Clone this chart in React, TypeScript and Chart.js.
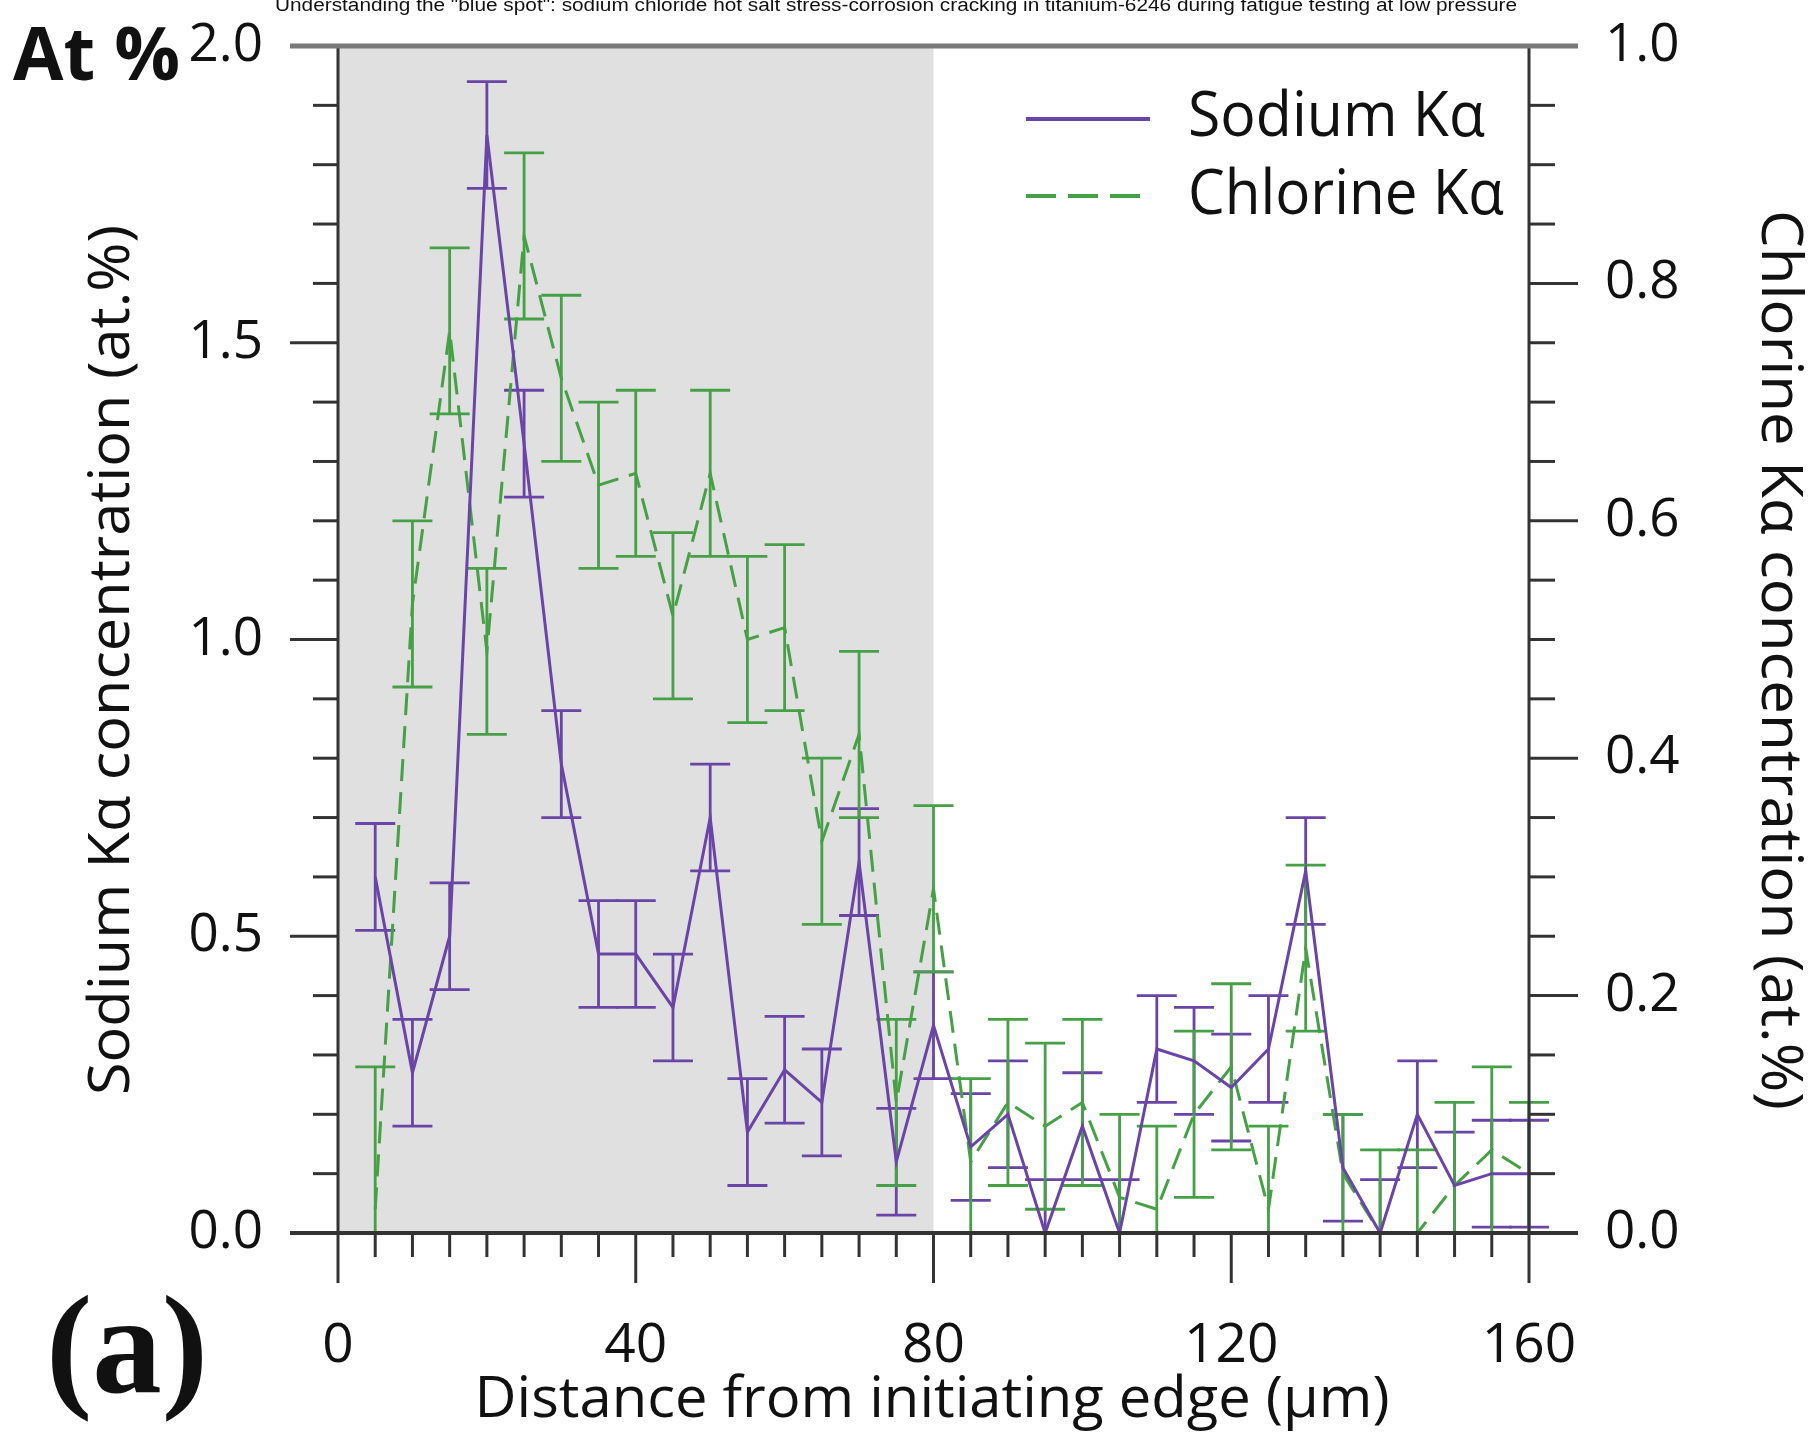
import React, { useEffect, useRef } from "react";
import { Chart, registerables } from "chart.js";

Chart.register(...registerables);

// ---------------- data ----------------
const TITLE =
  'Understanding the "blue spot": sodium chloride hot salt stress-corrosion cracking in titanium-6246 during fatigue testing at low pressure';

const distance = [
  5, 10, 15, 20, 25, 30, 35, 40, 45, 50, 55, 60, 65, 70, 75, 80,
  85, 90, 95, 100, 105, 110, 115, 120, 125, 130, 135, 140, 145, 150, 155, 160,
];

const sodium = [
  0.6, 0.27, 0.5, 1.85, 1.33, 0.79, 0.47, 0.47, 0.38, 0.7, 0.17, 0.275, 0.22, 0.625, 0.12, 0.35,
  0.145, 0.2, 0.0, 0.18, 0.0, 0.31, 0.29, 0.245, 0.31, 0.61, 0.11, 0.0, 0.2, 0.08, 0.1, 0.1,
];
const sodiumErr = [
  0.09, 0.09, 0.09, 0.09, 0.09, 0.09, 0.09, 0.09, 0.09, 0.09, 0.09, 0.09, 0.09, 0.09, 0.09, 0.09,
  0.09, 0.09, 0.09, 0.09, 0.09, 0.09, 0.09, 0.09, 0.09, 0.09, 0.09, 0.09, 0.09, 0.09, 0.09, 0.09,
];

const chlorine = [
  0.02, 0.53, 0.76, 0.49, 0.84, 0.72, 0.63, 0.64, 0.52, 0.64, 0.5, 0.51, 0.33, 0.42, 0.11, 0.29,
  0.06, 0.11, 0.09, 0.11, 0.03, 0.02, 0.1, 0.14, 0.02, 0.24, 0.05, 0.0, 0.0, 0.04, 0.07, 0.05,
];
const chlorineErr = [
  0.12, 0.07, 0.07, 0.07, 0.07, 0.07, 0.07, 0.07, 0.07, 0.07, 0.07, 0.07, 0.07, 0.07, 0.07, 0.07,
  0.07, 0.07, 0.07, 0.07, 0.07, 0.07, 0.07, 0.07, 0.07, 0.07, 0.05, 0.07, 0.07, 0.07, 0.07, 0.06,
];

const xTicks = [0, 40, 80, 120, 160];
const naTicks = [0, 0.5, 1.0, 1.5, 2.0];
const clTicks = [0, 0.2, 0.4, 0.6, 0.8, 1.0];
const xMinorStep = 5;
const naMinorStep = 0.1;
const clMinorStep = 0.05;
const shadedRange = [0, 80];

const seriesNames = ["Sodium K\u03b1", "Chlorine K\u03b1"];
const xTitle = "Distance from initiating edge (\u00b5m)";
const yTitle = "Sodium K\u03b1 concentration (at.%)";
const y1Title = "Chlorine K\u03b1 concentration (at.%)";

// ---------------- style ----------------
const PURPLE = "#6a44a6";
const GREEN = "#46a046";
const AXIS = "#333333";
const SANS = "'Open Sans', 'Noto Sans', sans-serif";
const GREEN_DASH = [22, 11];

// draw text at a given font size, squeezed horizontally to a target width
function drawFitted(
  ctx: CanvasRenderingContext2D,
  text: string,
  font: string,
  width: number,
  x: number,
  y: number
) {
  ctx.font = font;
  const w = ctx.measureText(text).width;
  const sx = width / w;
  ctx.save();
  ctx.translate(x, y);
  ctx.scale(sx, 1);
  ctx.fillText(text, 0, 0);
  ctx.restore();
}

function drawErrorBars(
  ctx: CanvasRenderingContext2D,
  xs: any,
  ys: any,
  values: number[],
  errs: number[],
  color: string
) {
  ctx.strokeStyle = color;
  ctx.lineWidth = 2.8;
  for (let i = 0; i < distance.length; i++) {
    const px = xs.getPixelForValue(distance[i]);
    const hi = ys.getPixelForValue(values[i] + errs[i]);
    const lo = ys.getPixelForValue(values[i] - errs[i]);
    ctx.beginPath();
    ctx.moveTo(px, hi);
    ctx.lineTo(px, lo);
    ctx.moveTo(px - 20, hi);
    ctx.lineTo(px + 20, hi);
    ctx.moveTo(px - 20, lo);
    ctx.lineTo(px + 20, lo);
    ctx.stroke();
  }
}

const decor = {
  id: "decor",
  beforeDatasetsDraw(chart: any) {
    const { ctx, chartArea: a, scales } = chart;
    const xs = scales.x;
    const ys = scales.y;
    ctx.save();
    const x0 = xs.getPixelForValue(shadedRange[0]);
    const x1 = xs.getPixelForValue(shadedRange[1]);
    ctx.fillStyle = "#e0e0e0";
    ctx.fillRect(x0, a.top, x1 - x0, a.bottom - a.top);
    ctx.beginPath();
    ctx.rect(a.left - 40, a.top, a.right - a.left + 80, a.bottom - a.top + 2);
    ctx.clip();
    drawErrorBars(ctx, xs, ys, sodium, sodiumErr, PURPLE);
    drawErrorBars(ctx, xs, scales.y1, chlorine, chlorineErr, GREEN);
    ctx.restore();
  },
  afterDraw(chart: any) {
    const { ctx, chartArea: a, scales } = chart;
    const xs = scales.x;
    const ys = scales.y;
    const y1 = scales.y1;
    ctx.save();
    ctx.lineCap = "butt";

    // tick marks
    ctx.strokeStyle = AXIS;
    ctx.lineWidth = 3;
    const near = (v: number, s: number) => Math.abs(v / s - Math.round(v / s)) < 1e-6;
    for (let v = ys.min; v <= ys.max + 1e-9; v += naMinorStep) {
      const len = near(v, 0.5) ? 48 : 25;
      const py = ys.getPixelForValue(v);
      ctx.beginPath();
      ctx.moveTo(a.left - len, py);
      ctx.lineTo(a.left, py);
      ctx.stroke();
    }
    for (let v = y1.min; v <= y1.max + 1e-9; v += clMinorStep) {
      const len = near(v, 0.2) ? 49 : 26;
      const py = y1.getPixelForValue(v);
      ctx.beginPath();
      ctx.moveTo(a.right, py);
      ctx.lineTo(a.right + len, py);
      ctx.stroke();
    }
    for (let v = xs.min; v <= xs.max + 1e-9; v += xMinorStep) {
      const len = near(v, 40) ? 50 : 24;
      const px = xs.getPixelForValue(v);
      ctx.beginPath();
      ctx.moveTo(px, a.bottom);
      ctx.lineTo(px, a.bottom + len);
      ctx.stroke();
    }

    // axis lines
    ctx.lineWidth = 3;
    ctx.beginPath();
    ctx.moveTo(a.left, a.top);
    ctx.lineTo(a.left, a.bottom);
    ctx.moveTo(a.right, a.top);
    ctx.lineTo(a.right, a.bottom);
    ctx.stroke();
    ctx.lineWidth = 4;
    ctx.beginPath();
    ctx.moveTo(a.left - 48, a.bottom);
    ctx.lineTo(a.right + 49, a.bottom);
    ctx.stroke();
    ctx.strokeStyle = "#7a7a7a";
    ctx.lineWidth = 5;
    ctx.beginPath();
    ctx.moveTo(a.left - 48, a.top);
    ctx.lineTo(a.right + 49, a.top);
    ctx.stroke();

    // tick labels, taken from the scales' own ticks
    ctx.fillStyle = "#111";
    ctx.font = `normal 53px ${SANS}`;
    ctx.textBaseline = "middle";
    ctx.textAlign = "right";
    ys.ticks.forEach((t: any) => {
      ctx.fillText(Number(t.value).toFixed(1), a.left - 75, ys.getPixelForValue(t.value));
    });
    ctx.textAlign = "left";
    y1.ticks.forEach((t: any) => {
      ctx.fillText(Number(t.value).toFixed(1), a.right + 76, y1.getPixelForValue(t.value));
    });
    ctx.textAlign = "center";
    ctx.textBaseline = "alphabetic";
    ctx.font = `normal 55px ${SANS}`;
    xs.ticks.forEach((t: any) => {
      ctx.fillText(String(t.value), xs.getPixelForValue(t.value), a.bottom + 129);
    });

    // legend
    ctx.lineWidth = 4;
    ctx.strokeStyle = PURPLE;
    ctx.beginPath();
    ctx.moveTo(1026, 119);
    ctx.lineTo(1150, 119);
    ctx.stroke();
    ctx.strokeStyle = GREEN;
    ctx.setLineDash([30, 12]);
    ctx.beginPath();
    ctx.moveTo(1026, 196);
    ctx.lineTo(1150, 196);
    ctx.stroke();
    ctx.setLineDash([]);

    ctx.textAlign = "left";
    ctx.textBaseline = "alphabetic";
    drawFitted(ctx, seriesNames[0], `normal 62px ${SANS}`, 297, 1188, 136);
    drawFitted(ctx, seriesNames[1], `normal 62px ${SANS}`, 316, 1188, 214);

    drawFitted(ctx, "At %", `bold 74px ${SANS}`, 167, 13, 80);

    ctx.textAlign = "center";
    drawFitted(ctx, xTitle, `normal 57px ${SANS}`, 915, 932, 1417);

    ctx.textBaseline = "middle";
    ctx.save();
    ctx.translate(113, 660);
    ctx.rotate(-Math.PI / 2);
    drawFitted(ctx, yTitle, `normal 56px ${SANS}`, 870, 0, 0);
    ctx.restore();

    ctx.save();
    ctx.translate(1778, 660);
    ctx.rotate(Math.PI / 2);
    drawFitted(ctx, y1Title, `normal 56px ${SANS}`, 900, 0, 0);
    ctx.restore();

    ctx.textBaseline = "alphabetic";
    ctx.textAlign = "left";
    drawFitted(ctx, "(a)", `bold 140px 'Liberation Serif', serif`, 162, 46, 1392);

    ctx.textAlign = "center";
    drawFitted(ctx, TITLE, `normal 18px 'Liberation Sans', Arial, sans-serif`, 1242, 896, 11);

    ctx.restore();
  },
};

export default function App() {
  const ref = useRef<HTMLCanvasElement | null>(null);

  useEffect(() => {
    if (!ref.current) return;
    const hiddenTicks = { display: false, autoSkip: false };
    const chart: any = new Chart(ref.current, {
      type: "line",
      data: {
        datasets: [
          {
            label: seriesNames[0],
            data: distance.map((d, i) => ({ x: d, y: sodium[i] })),
            yAxisID: "y",
            borderColor: PURPLE,
            backgroundColor: PURPLE,
            borderWidth: 3,
            pointRadius: 0,
            tension: 0,
            fill: false,
          },
          {
            label: seriesNames[1],
            data: distance.map((d, i) => ({ x: d, y: chlorine[i] })),
            yAxisID: "y1",
            borderColor: GREEN,
            backgroundColor: GREEN,
            borderWidth: 3,
            borderDash: GREEN_DASH,
            pointRadius: 0,
            tension: 0,
            fill: false,
          },
        ],
      },
      options: {
        responsive: false,
        animation: false,
        events: [],
        layout: { padding: { top: 46, left: 0, right: 0, bottom: 0 }, autoPadding: false },
        plugins: {
          legend: { display: false },
          tooltip: { enabled: false },
          title: { display: false },
        },
        scales: {
          x: {
            type: "linear",
            position: "bottom",
            min: 0,
            max: 160,
            grid: { display: false, drawTicks: false },
            border: { display: false },
            afterBuildTicks: (s: any) => {
              s.ticks = xTicks.map((v) => ({ value: v }));
            },
            afterFit: (s: any) => {
              s.height = 215;
            },
            ticks: hiddenTicks,
          },
          y: {
            type: "linear",
            position: "left",
            min: 0,
            max: 2,
            grid: { display: false, drawTicks: false },
            border: { display: false },
            afterBuildTicks: (s: any) => {
              s.ticks = naTicks.map((v) => ({ value: v }));
            },
            afterFit: (s: any) => {
              s.width = 338;
            },
            ticks: hiddenTicks,
          },
          y1: {
            type: "linear",
            position: "right",
            min: 0,
            max: 1,
            grid: { display: false, drawTicks: false },
            border: { display: false },
            afterBuildTicks: (s: any) => {
              s.ticks = clTicks.map((v) => ({ value: v }));
            },
            afterFit: (s: any) => {
              s.width = 287;
            },
            ticks: hiddenTicks,
          },
        },
      } as any,
      plugins: [decor],
    });
    return () => chart.destroy();
  }, []);

  return (
    <div style={{ position: "fixed", left: 0, top: 0, width: 1816, height: 1448, background: "#fff" }}>
      <canvas ref={ref} width={1816} height={1448} style={{ display: "block" }} />
    </div>
  );
}
